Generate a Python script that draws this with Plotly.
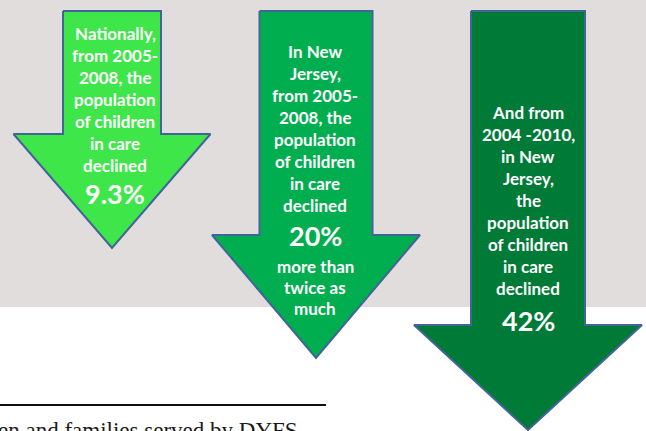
import plotly.graph_objects as go

# --- data -------------------------------------------------------------
scopes = ["Nationally", "New Jersey", "New Jersey (long run)"]
declines = [9.3, 20, 42]  # % decline of children in care
label_lines = [
    ["Nationally,", "from 2005-", "2008, the", "population", "of children", "in care", "declined"],
    ["In New", "Jersey,", "from 2005-", "2008, the", "population", "of children", "in care", "declined"],
    ["And from", "2004 -2010,", "in New", "Jersey,", "the", "population", "of children", "in care", "declined"],
]
after_lines = [[], ["more than", "twice as", "much"], []]
footer_text = "en and families served by DYFS"

# --- styling / layout (pixel space of a 646 x 431 canvas) --------------
W, H = 646, 431
fills = ["#3ee64a", "#00ae4f", "#007a37"]
outline = "#41649a"
# arrow geometry: centre x, shaft half-width, head half-width, top, shoulder, tip
arrow_geom = [
    dict(cx=112, sw=49, hw=98.5, top=11, sh=134, tip=248),
    dict(cx=316, sw=56.5, hw=104, top=11, sh=235, tip=358),
    dict(cx=528, sw=57, hw=114, top=11, sh=325, tip=430),
]
text_geom = [
    dict(cx=115, y0=33, step=22, pct_y=193, after_y=None),
    dict(cx=315, y0=51, step=22, pct_y=235, after_y=266),
    dict(cx=528, y0=112, step=22, pct_y=320, after_y=None),
]

fig = go.Figure()

# grey panel behind the arrows
fig.add_shape(type="rect", x0=0, x1=W, y0=0, y1=307, xref="x", yref="y",
              fillcolor="#e1dddd", line=dict(width=0), layer="below")

for g, col, name in zip(arrow_geom, fills, scopes):
    cx, sw, hw = g["cx"], g["sw"], g["hw"]
    xs = [cx - sw, cx + sw, cx + sw, cx + hw, cx, cx - hw, cx - sw, cx - sw]
    ys = [g["top"], g["top"], g["sh"], g["sh"], g["tip"], g["sh"], g["sh"], g["top"]]
    fig.add_trace(go.Scatter(x=xs, y=ys, mode="lines", fill="toself",
                             fillcolor=col, line=dict(color=outline, width=2),
                             name=name, hoverinfo="skip", showlegend=False))

body_font = dict(family="Lato, 'Open Sans', sans-serif", size=17, color="white")
pct_font = dict(family="Lato, 'Open Sans', sans-serif", size=27, color="white")

for tg, lines, extra, val in zip(text_geom, label_lines, after_lines, declines):
    for i, ln in enumerate(lines):
        fig.add_annotation(x=tg["cx"], y=tg["y0"] + i * tg["step"], text=f"<b>{ln}</b>",
                           showarrow=False, font=body_font, xanchor="center", yanchor="middle")
    fig.add_annotation(x=tg["cx"], y=tg["pct_y"], text=f"<b>{val:g}%</b>",
                       showarrow=False, font=pct_font, xanchor="center", yanchor="middle")
    for i, ln in enumerate(extra):
        fig.add_annotation(x=tg["cx"], y=tg["after_y"] + i * 21, text=f"<b>{ln}</b>",
                           showarrow=False, font=body_font, xanchor="center", yanchor="middle")

# footnote rule and text (the text runs off the bottom of the slide)
fig.add_shape(type="line", x0=0, x1=326, y0=405, y1=405, xref="x", yref="y",
              line=dict(color="#111111", width=2))
fig.add_annotation(x=0, y=416, xshift=-4, text=footer_text, showarrow=False,
                   xanchor="left", yanchor="top",
                   font=dict(family="'Liberation Serif', serif", size=23, color="#1a1a1a"))

fig.update_layout(
    width=W, height=H, margin=dict(l=0, r=0, t=0, b=0),
    paper_bgcolor="white", plot_bgcolor="white",
    xaxis=dict(range=[0, W], visible=False, fixedrange=True),
    yaxis=dict(range=[H, 0], visible=False, fixedrange=True),
    showlegend=False,
)

fig.write_html("out.html", config={"displayModeBar": False})
